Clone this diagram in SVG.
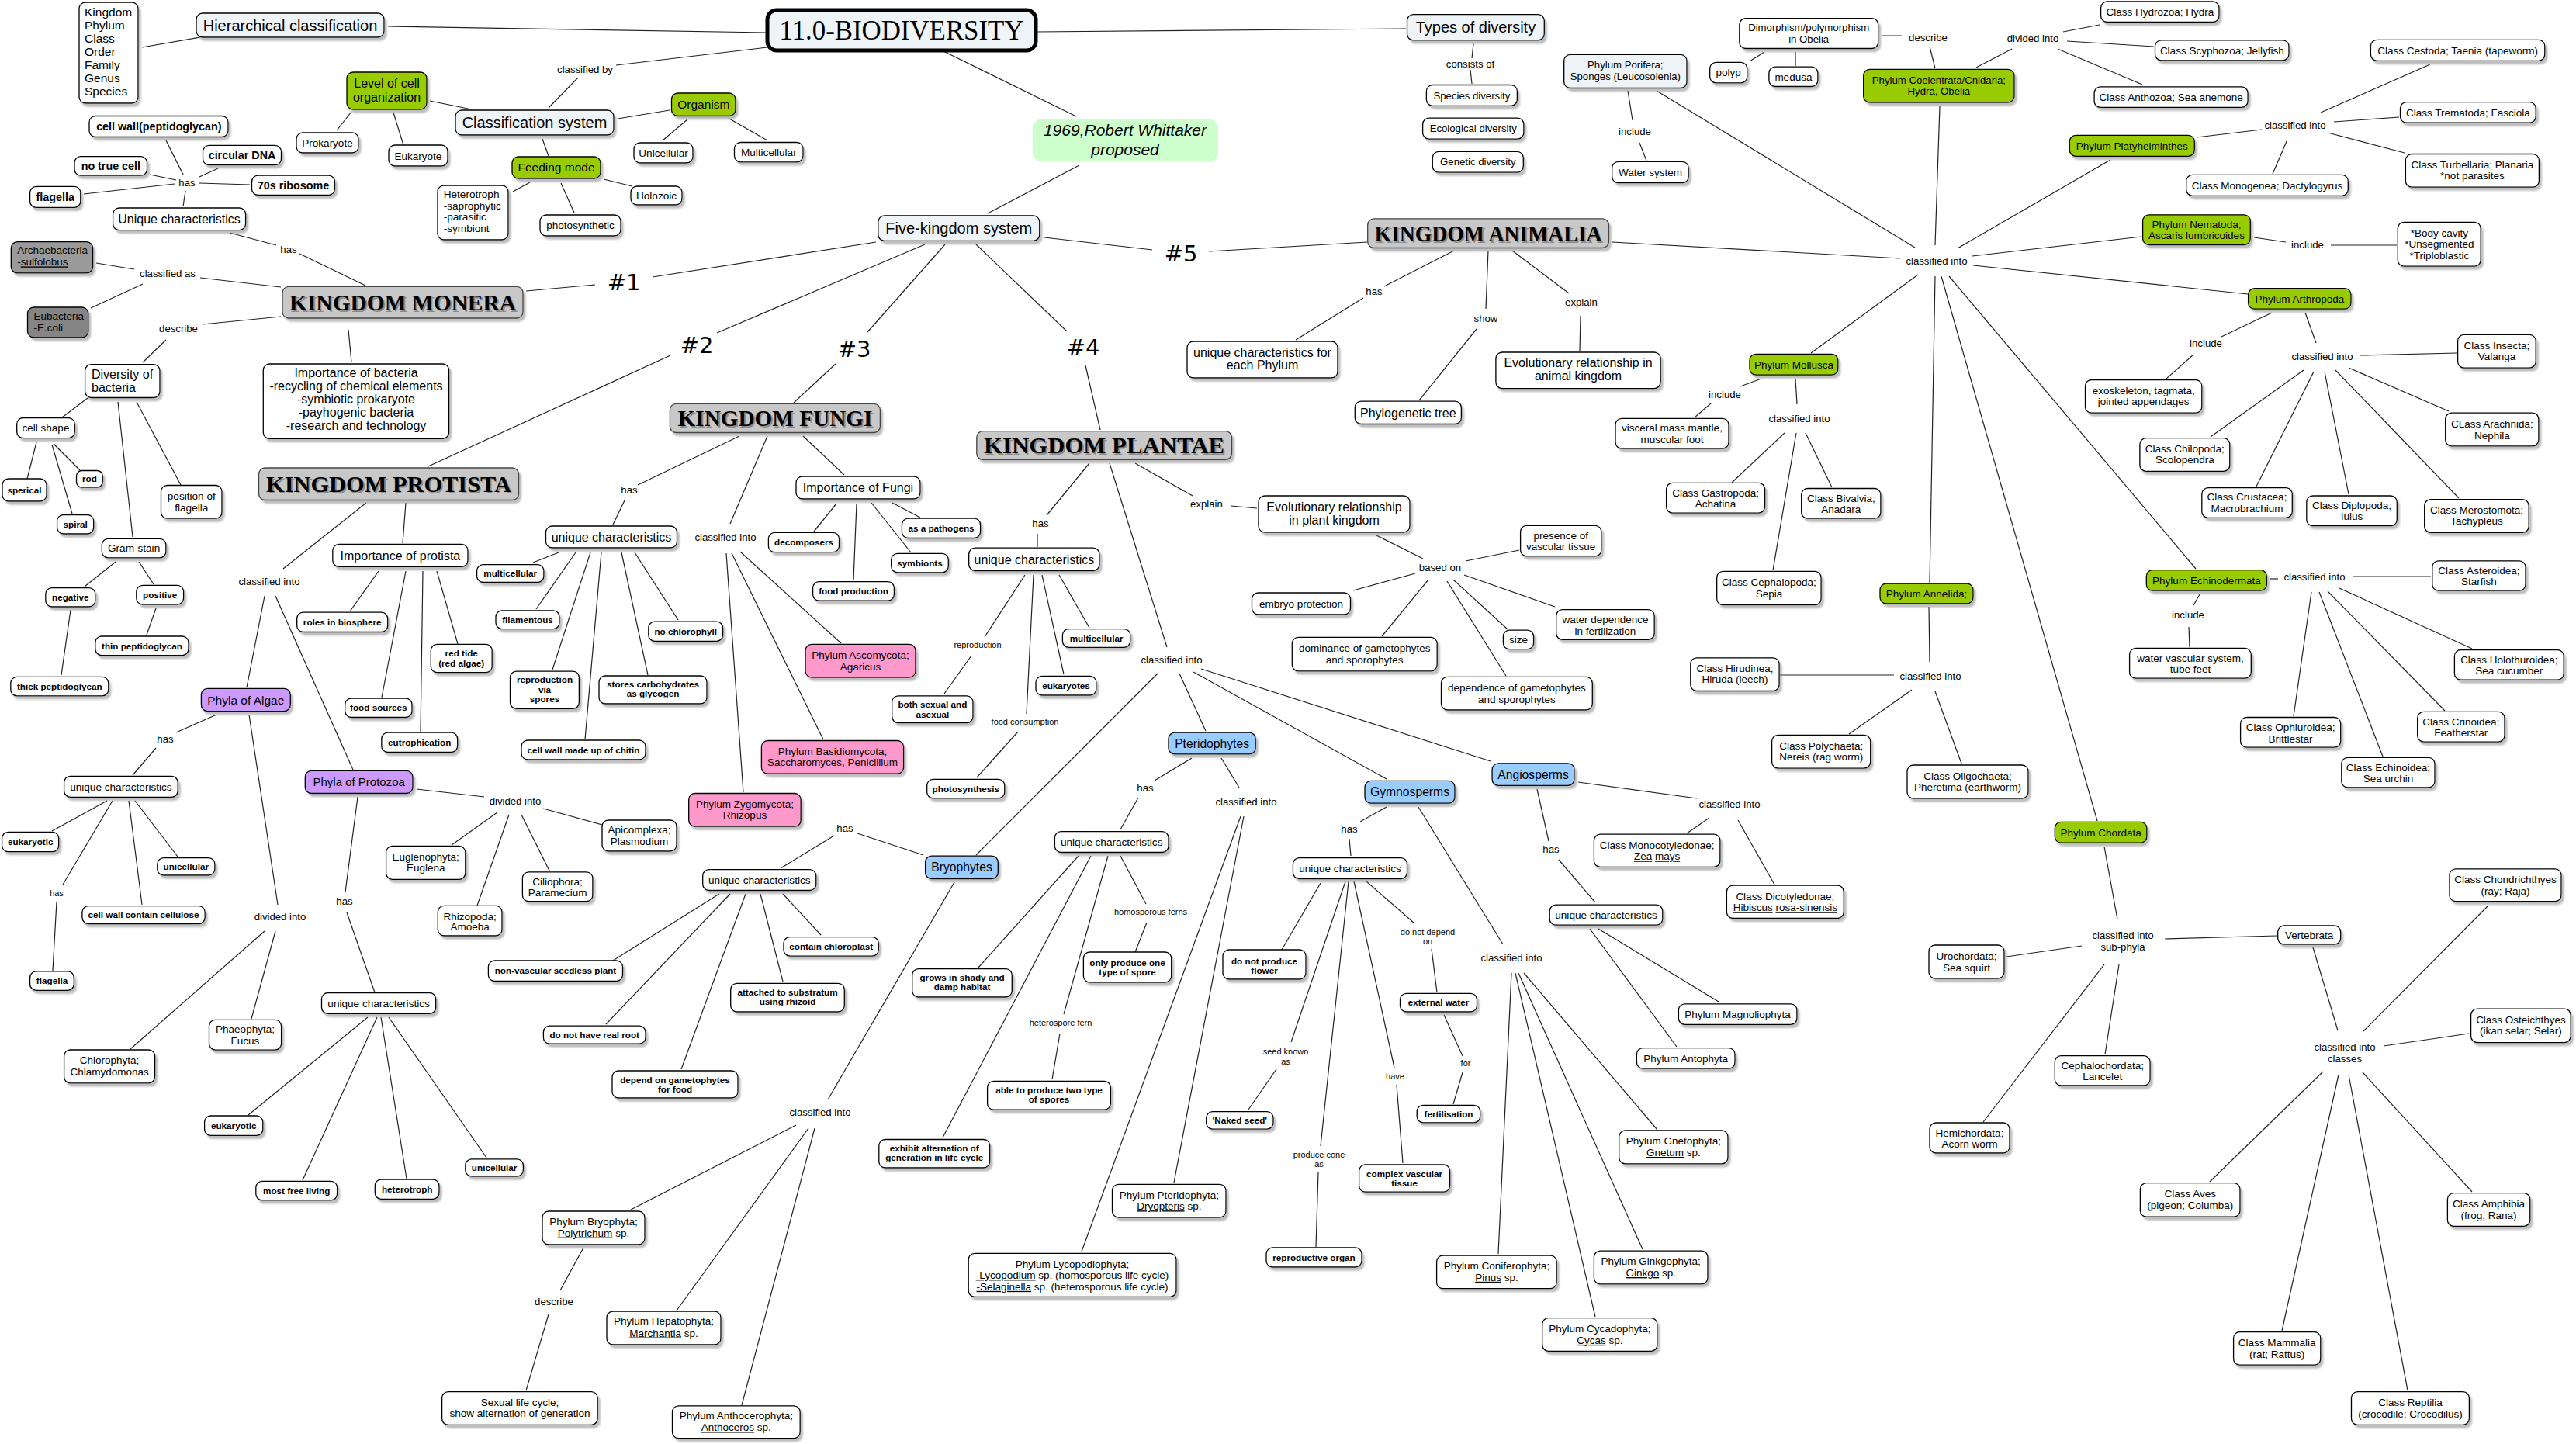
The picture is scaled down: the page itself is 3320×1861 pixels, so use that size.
<svg xmlns="http://www.w3.org/2000/svg" width="3320" height="1861" viewBox="0 0 3320 1861">
<defs>
<filter id="sh" x="-10%" y="-10%" width="130%" height="150%"><feDropShadow dx="3" dy="4" stdDeviation="1.2" flood-color="#888" flood-opacity="0.55"/></filter>
</defs>
<style>
.n{stroke:#000;stroke-width:1.3;filter:url(#sh)}
.w{fill:#fff}.lb{fill:#eef4f8}.g{fill:#99cc00}.p{fill:#cc99ff}.pk{fill:#ff99cc}.b{fill:#99ccff}
.k{fill:#c8c8c8;stroke:#444}.a1{fill:#9a9a9a}.a2{fill:#858585}.lg{fill:#ccffcc;stroke:none}
text{font-family:"Liberation Sans",Arial,sans-serif;text-anchor:middle;fill:#000}
.s20{font-size:20px}.s16{font-size:16px}.s155{font-size:15.5px}.s157{font-size:15.7px}.s15{font-size:15px}.s136{font-size:13.6px}.s135{font-size:13.5px}.s13{font-size:13.2px}.s11{font-size:11px}
.bb{font-weight:bold;font-size:14.3px}.bs{font-weight:bold;font-size:11.7px}
.lft{text-anchor:start}
.kt{font-family:"Liberation Serif","Times New Roman",serif;font-weight:bold;font-size:30px}
.ttl{font-family:"Liberation Serif","Times New Roman",serif;font-size:35px}
.it{font-style:italic;font-size:21px}
.ks{fill:#8a8a8a}
.hash{font-family:"DejaVu Sans",sans-serif;font-size:29px}
.u{text-decoration:underline}
#connectors path{stroke:#222;stroke-width:1.2;fill:none}
</style>
<rect width="3320" height="1861" fill="#fff"/>
<g id="connectors">
<path d="M183 61L258 48"/><path d="M500 34L989 42"/><path d="M989 61L794 84M745 100L707 139"/>
<path d="M554 130L608 141"/><path d="M453 144L434 168"/><path d="M507 145L520 187"/>
<path d="M699 179L707 201"/><path d="M683 235L661 247"/><path d="M723 236L740 274"/><path d="M778 231L815 240"/>
<path d="M796 153L863 142"/><path d="M886 154L854 181"/><path d="M940 153L989 181"/>
<path d="M214 181L236 225"/><path d="M281 217L257 228"/><path d="M193 225L227 232"/><path d="M108 250L225 237"/><path d="M257 236L322 238"/><path d="M239 246L236 266"/>
<path d="M296 300L356 316M386 327L471 368"/>
<path d="M124 339L173 347M258 358L362 370M184 366L117 397"/>
<path d="M362 408L261 418M214 438L184 467"/><path d="M449 425L453 467"/>
<path d="M678 375L767 367"/><path d="M841 357L1129 312"/>
<path d="M113 513L80 538"/><path d="M152 518L171 692"/><path d="M176 518L233 625"/>
<path d="M47 570L35 617"/><path d="M67 573L93 662"/><path d="M69 572L103 606"/>
<path d="M149 724L109 756"/><path d="M179 724L198 753"/><path d="M201 784L189 818"/><path d="M91 786L79 870"/>
<path d="M1192 315L924 429"/><path d="M864 458L552 601"/>
<path d="M472 648L365 733"/><path d="M523 648L519 700"/>
<path d="M488 736L451 788"/><path d="M523 736L492 899"/><path d="M545 736L542 943"/><path d="M563 736L590 830"/>
<path d="M341 768L318 886"/><path d="M355 768L455 992"/>
<path d="M279 921L227 944M201 964L171 999"/>
<path d="M138 1032L67 1071"/><path d="M145 1032L81 1140M73 1162L68 1251"/><path d="M166 1032L183 1166"/><path d="M174 1032L229 1104"/>
<path d="M321 921L358 1166"/><path d="M341 1200L168 1352"/><path d="M355 1200L324 1313"/>
<path d="M537 1017L624 1027"/><path d="M641 1047L582 1089"/><path d="M656 1050L615 1167"/><path d="M672 1050L708 1122"/><path d="M700 1042L776 1063"/>
<path d="M461 1027L445 1150M447 1176L483 1279"/>
<path d="M474 1311L320 1437"/><path d="M486 1311L390 1521"/><path d="M491 1311L524 1519"/><path d="M501 1311L627 1492"/>
<path d="M1218 315L1118 428"/><path d="M1077 469L1023 519"/>
<path d="M1258 315L1375 427"/><path d="M1399 471L1418 554"/>
<path d="M1346 306L1485 322"/><path d="M1558 324L1762 312"/>
<path d="M1216 66L1387 150"/><path d="M1391 213L1273 275"/><path d="M1336 41L1812 37"/>
<path d="M953 562L822 625M805 645L790 676"/>
<path d="M720 712L687 725"/><path d="M742 712L691 785"/><path d="M761 712L712 863"/><path d="M775 712L754 953"/><path d="M801 712L835 870"/><path d="M818 712L874 799"/>
<path d="M989 562L941 675"/><path d="M936 713L958 1021"/><path d="M943 713L1061 953"/><path d="M954 711L1084 829"/>
<path d="M1035 562L1088 612"/><path d="M1078 649L1049 685"/><path d="M1150 648L1186 667"/><path d="M1123 648L1174 712"/><path d="M1104 649L1100 748"/>
<path d="M1404 597L1349 664M1337 688L1337 705"/>
<path d="M1321 741L1269 821M1252 845L1217 894"/><path d="M1332 741L1323 920M1312 943L1259 1002"/><path d="M1343 741L1371 869"/><path d="M1365 741L1404 809"/>
<path d="M1430 597L1504 834"/><path d="M1492 868L1258 1102"/><path d="M1520 868L1554 942"/><path d="M1538 866L1787 1004"/><path d="M1548 862L1921 981"/>
<path d="M1463 597L1537 639M1586 652L1620 655"/>
<path d="M1774 690L1834 720"/><path d="M1889 723L1958 709"/><path d="M1824 739L1744 761"/><path d="M1841 747L1781 820"/><path d="M1865 749L1941 871"/><path d="M1873 747L1943 811"/><path d="M1887 741L2004 782"/>
<path d="M1190 1102L1105 1074M1075 1077L1006 1119"/>
<path d="M927 1152L790 1238"/><path d="M941 1152L781 1320"/><path d="M961 1152L878 1378"/><path d="M980 1152L1009 1265"/><path d="M1009 1152L1058 1205"/>
<path d="M1230 1137L1067 1417"/><path d="M1026 1450L813 1559"/><path d="M1042 1454L872 1689"/><path d="M1050 1454L956 1811"/>
<path d="M752 1608L722 1663M707 1694L678 1792"/>
<path d="M1536 977L1488 1006M1467 1028L1444 1069"/>
<path d="M1574 977L1597 1015"/><path d="M1599 1052L1394 1613"/><path d="M1603 1052L1513 1524"/>
<path d="M1390 1103L1261 1247"/><path d="M1406 1103L1215 1466"/><path d="M1428 1103L1371 1307M1366 1332L1356 1391"/><path d="M1444 1103L1477 1165M1478 1189L1463 1227"/>
<path d="M1787 1040L1753 1059M1739 1081L1741 1103"/>
<path d="M1702 1138L1652 1224"/><path d="M1734 1136L1664 1343M1645 1378L1609 1430"/><path d="M1738 1136L1702 1477M1699 1511L1696 1607"/><path d="M1745 1136L1797 1376M1800 1398L1808 1499"/><path d="M1761 1136L1823 1190M1845 1223L1852 1279"/>
<path d="M1861 1308L1885 1361M1885 1382L1873 1423"/>
<path d="M1828 1040L1937 1217"/><path d="M1948 1254L1931 1616"/><path d="M1953 1254L2056 1697"/><path d="M1957 1254L2117 1610"/><path d="M1964 1254L2136 1456"/>
<path d="M2034 1008L2187 1029"/><path d="M2203 1054L2174 1074"/><path d="M2240 1057L2287 1140"/>
<path d="M1981 1017L1996 1084M2009 1108L2056 1163"/><path d="M2060 1197L2215 1291"/><path d="M2049 1197L2161 1349"/>
<path d="M1874 323L1784 369M1757 384L1670 438"/><path d="M1918 323L1915 398M1903 424L1829 516"/><path d="M1949 323L2022 378M2037 407L2036 452"/>
<path d="M2078 312L2449 333"/>
<path d="M1899 56L1897 75M1895 90L1897 108"/>
<path d="M2098 117L2104 155M2113 184L2122 207"/><path d="M2135 117L2468 319"/>
<path d="M2500 137L2494 316"/><path d="M2494 88L2487 60M2451 46L2425 46"/><path d="M2274 67L2255 79"/><path d="M2314 67L2314 85"/>
<path d="M2547 87L2593 63"/><path d="M2659 41L2706 32"/><path d="M2664 53L2776 60"/><path d="M2652 63L2761 109"/>
<path d="M2523 320L2720 206"/><path d="M2831 177L2915 167"/><path d="M3008 157L3092 151"/><path d="M2991 145L3132 83"/><path d="M3000 171L3099 197"/><path d="M2948 180L2929 224"/>
<path d="M2542 330L2760 305"/><path d="M2905 306L2946 312M3004 316L3089 316"/>
<path d="M2543 342L2897 379"/><path d="M2928 403L2863 434M2827 457L2792 488"/><path d="M2971 403L2985 442"/>
<path d="M3042 458L3166 455"/><path d="M2969 477L2849 563"/><path d="M2982 479L2908 627"/><path d="M2996 479L3027 637"/><path d="M3010 477L3169 642"/><path d="M3027 474L3156 530"/>
<path d="M2472 354L2334 455"/><path d="M2270 488L2243 498M2205 520L2184 538"/><path d="M2314 488L2316 521"/><path d="M2300 558L2232 622"/><path d="M2315 558L2285 735"/><path d="M2327 558L2361 628"/>
<path d="M2494 356L2487 751"/><path d="M2486 782L2487 853"/><path d="M2441 870L2294 870"/><path d="M2464 889L2383 946"/><path d="M2494 891L2528 984"/>
<path d="M2512 356L2830 733"/><path d="M2926 746L2936 746"/><path d="M3032 743L3133 743"/><path d="M2979 763L2956 923"/><path d="M2989 763L3071 975"/><path d="M3000 762L3151 916"/><path d="M3015 758L3186 836"/>
<path d="M2835 766L2827 780M2821 808L2822 834"/>
<path d="M2502 356L2703 1058"/><path d="M2712 1091L2729 1185"/><path d="M2790 1210L2934 1206"/><path d="M2683 1219L2586 1233"/><path d="M2731 1243L2713 1359"/><path d="M2712 1243L2556 1446"/>
<path d="M2981 1221L3013 1328"/><path d="M3206 1168L3046 1329"/><path d="M3072 1348L3182 1332"/><path d="M2994 1381L2848 1523"/><path d="M3014 1385L2941 1715"/><path d="M3027 1385L3103 1792"/><path d="M3045 1382L3186 1536"/>
</g>
<g id="labels">
<text class="s13" x="754" y="93.5">classified by</text>
<text class="s13" x="241" y="239.5">has</text>
<text class="s13" x="372" y="325.5">has</text>
<text class="s13" x="216" y="356.5">classified as</text>
<text class="s13" x="230" y="427.5">describe</text>
<text class="s13" x="347" y="753.5">classified into</text>
<text class="s13" x="213" y="956.5">has</text>
<text class="s11" x="73" y="1154.5">has</text>
<text class="s13" x="361" y="1186">divided into</text>
<text class="s13" x="664" y="1036.5">divided into</text>
<text class="s13" x="444" y="1166">has</text>
<text class="s13" x="811" y="636.4">has</text>
<text class="s13" x="935" y="697.3">classified into</text>
<text class="s13" x="1341" y="679">has</text>
<text class="s11" x="1260" y="835.3">reproduction</text>
<text class="s11" x="1321" y="934.2">food consumption</text>
<text class="s13" x="1510" y="854.6">classified into</text>
<text class="s13" x="1555" y="654.2">explain</text>
<text class="s13" x="1856" y="736.4">based on</text>
<text class="s13" x="1089" y="1072">has</text>
<text class="s13" x="1057" y="1438.3">classified into</text>
<text class="s13" x="714" y="1681.5">describe</text>
<text class="s13" x="1476" y="1020.3">has</text>
<text class="s13" x="1606" y="1037.7">classified into</text>
<text class="s11" x="1367" y="1322">heterospore fern</text>
<text class="s11" x="1483" y="1179.4">homosporous ferns</text>
<text class="s13" x="1739" y="1072.5">has</text>
<text class="s11"><tspan x="1657" y="1359">seed known</tspan><tspan x="1657" y="1371.5">as</tspan></text>
<text class="s11"><tspan x="1700" y="1492">produce cone</tspan><tspan x="1700" y="1504">as</tspan></text>
<text class="s11" x="1798" y="1390.5">have</text>
<text class="s11"><tspan x="1840" y="1205.3">do not depend</tspan><tspan x="1840" y="1217.2">on</tspan></text>
<text class="s11" x="1889" y="1374.3">for</text>
<text class="s13" x="1948" y="1238.6">classified into</text>
<text class="s13" x="2229" y="1041.3">classified into</text>
<text class="s13" x="1999" y="1099">has</text>
<text class="s13" x="1771" y="380">has</text>
<text class="s13" x="1915" y="414.5">show</text>
<text class="s13" x="2038" y="393.5">explain</text>
<text class="s13" x="1895" y="86.7">consists of</text>
<text class="s13" x="2107" y="173.7">include</text>
<text class="s13" x="2496" y="340.5">classified into</text>
<text class="s13" x="2485" y="52.8">describe</text>
<text class="s13" x="2620" y="54.3">divided into</text>
<text class="s13" x="2958" y="165.5">classified into</text>
<text class="s13" x="2974" y="319.6">include</text>
<text class="s13" x="2843" y="447.4">include</text>
<text class="s13" x="2993" y="463.6">classified into</text>
<text class="s13" x="2223" y="512.6">include</text>
<text class="s13" x="2319" y="543.5">classified into</text>
<text class="s13" x="2488" y="875.5">classified into</text>
<text class="s13" x="2983" y="748.3">classified into</text>
<text class="s13" x="2820" y="797.3">include</text>
<text class="s13"><tspan x="2736" y="1210">classified into</tspan><tspan x="2736" y="1224.6">sub-phyla</tspan></text>
<text class="s13"><tspan x="3022" y="1353.5">classified into</tspan><tspan x="3022" y="1368.6">classes</tspan></text>
<text class="hash" x="804" y="373.5">#1</text>
<text class="hash" x="898" y="454.7">#2</text>
<text class="hash" x="1101" y="459.9">#3</text>
<text class="hash" x="1396" y="457.5">#4</text>
<text class="hash" x="1522" y="337.3">#5</text>
</g>
<g id="title"><rect x="989" y="13" width="346" height="52" rx="12" fill="#eef4f8" stroke="#000" stroke-width="5"/><text class="ttl" x="1162" y="50.5" textLength="315" lengthAdjust="spacingAndGlyphs">11.0-BIODIVERSITY</text></g>
<g id="kinglist"><rect class="n w" x="102" y="3" width="76" height="130" rx="8"/><text class="s155 lft"><tspan x="109" y="20.6">Kingdom</tspan><tspan x="109" y="37.6">Phylum</tspan><tspan x="109" y="54.6">Class</tspan><tspan x="109" y="71.6">Order</tspan><tspan x="109" y="88.6">Family</tspan><tspan x="109" y="105.6">Genus</tspan><tspan x="109" y="122.6">Species</tspan></text></g>
<g id="hier"><rect class="n lb" x="253" y="17" width="242" height="31" rx="8"/><text class="s20" x="374" y="39.5">Hierarchical classification</text></g>
<g id="level"><rect class="n g" x="447" y="93" width="103" height="48" rx="8"/><text class="s16"><tspan x="498.5" y="112.7">Level of cell</tspan><tspan x="498.5" y="130.5">organization</tspan></text></g>
<g id="classsys"><rect class="n lb" x="587" y="142" width="204" height="32" rx="8"/><text class="s20" x="689" y="165">Classification system</text></g>
<g id="prok"><rect class="n w" x="382" y="171" width="80" height="26" rx="8"/><text class="s135" x="422" y="188.7">Prokaryote</text></g>
<g id="euk"><rect class="n w" x="501" y="187" width="76" height="27" rx="8"/><text class="s135" x="539" y="205.5">Eukaryote</text></g>
<g id="feeding"><rect class="n g" x="660" y="202" width="114" height="28" rx="8"/><text class="s155" x="717" y="221.4">Feeding mode</text></g>
<g id="hetero"><rect class="n w" x="564" y="239" width="91" height="70" rx="8"/><text class="s136 lft"><tspan x="571.7" y="255">Heterotroph</tspan><tspan x="571.7" y="269.7">-saprophytic</tspan><tspan x="571.7" y="284.3">-parasitic</tspan><tspan x="571.7" y="299">-symbiont</tspan></text></g>
<g id="photo1"><rect class="n w" x="696" y="277" width="104" height="27" rx="8"/><text class="s136" x="748" y="295.3">photosynthetic</text></g>
<g id="holo"><rect class="n w" x="813" y="240" width="66" height="24" rx="8"/><text class="s136" x="846" y="256.8">Holozoic</text></g>
<g id="unicell"><rect class="n w" x="817" y="184" width="76" height="26" rx="8"/><text class="s136" x="855" y="201.8">Unicellular</text></g>
<g id="multicell"><rect class="n w" x="946.5" y="183.5" width="88.5" height="25.3" rx="8"/><text class="s136" x="990.8" y="201">Multicellular</text></g>
<g id="organism"><rect class="n g" x="865.5" y="120" width="82.5" height="29.5" rx="8"/><text class="s155" x="906.8" y="140.2">Organism</text></g>
<g id="cellwall"><rect class="n w" x="115" y="149.5" width="179" height="27" rx="8"/><text class="bb" x="204.8" y="168">cell wall(peptidoglycan)</text></g>
<g id="circdna"><rect class="n w" x="261.5" y="187.4" width="101" height="25.3" rx="8"/><text class="bb" x="312" y="205">circular DNA</text></g>
<g id="notrue"><rect class="n w" x="96" y="201.7" width="93.5" height="24.5" rx="8"/><text class="bb" x="142.8" y="219">no true cell</text></g>
<g id="flagb"><rect class="n w" x="38.6" y="240.4" width="65.2" height="27" rx="8"/><text class="bb" x="71.2" y="259">flagella</text></g>
<g id="ribo"><rect class="n w" x="324.5" y="226.2" width="107" height="25.3" rx="8"/><text class="bb" x="378" y="244">70s ribosome</text></g>
<g id="uniqb"><rect class="n w" x="145.6" y="268" width="171" height="28.6" rx="8"/><text class="s16" x="231" y="288">Unique characteristics</text></g>
<g id="monera"><rect class="n k" x="364" y="369.3" width="310" height="40.7" rx="8"/><text class="kt ks" x="521" y="401.6" textLength="292" lengthAdjust="spacingAndGlyphs">KINGDOM MONERA</text><text class="kt" x="519" y="399.6" textLength="292" lengthAdjust="spacingAndGlyphs">KINGDOM MONERA</text></g>
<g id="archae"><rect class="n a1" x="14.3" y="311.6" width="105.3" height="40.3" rx="8"/><text class="s135 lft"><tspan x="22.2" y="327.4">Archaebacteria</tspan><tspan x="22.2" y="342.4">-<tspan class="u">sulfolobus</tspan></tspan></text></g>
<g id="eubac"><rect class="n a2" x="35.5" y="396" width="78.3" height="39" rx="8"/><text class="s135 lft"><tspan x="43.4" y="412.4">Eubacteria</tspan><tspan x="43.4" y="427.4">-E.coli</tspan></text></g>
<g id="divers"><rect class="n w" x="109.6" y="469.7" width="96.4" height="42.8" rx="8"/><text class="s16 lft"><tspan x="118" y="487.5">Diversity of</tspan><tspan x="118" y="504.5">bacteria</tspan></text></g>
<g id="impbac"><rect class="n w" x="339.3" y="469" width="239.3" height="96.4" rx="8"/><text class="s16"><tspan x="459" y="486.4">Importance of bacteria</tspan><tspan x="459" y="503.4">-recycling of chemical elements</tspan><tspan x="459" y="520.4">-symbiotic prokaryote</tspan><tspan x="459" y="537.4">-payhogenic bacteria</tspan><tspan x="459" y="554.4">-research and technology</tspan></text></g>
<g id="cellshape"><rect class="n w" x="21.7" y="538.5" width="74.6" height="26.1" rx="8"/><text class="s135" x="59" y="556">cell shape</text></g>
<g id="rod"><rect class="n w" x="98.5" y="606.5" width="33.8" height="21.5" rx="7"/><text class="bs" x="115.4" y="621.4">rod</text></g>
<g id="sperical"><rect class="n w" x="3" y="617" width="57" height="29" rx="8"/><text class="bs" x="31.5" y="635.6">sperical</text></g>
<g id="spiral"><rect class="n w" x="73.6" y="663.5" width="47.1" height="24.5" rx="8"/><text class="bs" x="97.2" y="680">spiral</text></g>
<g id="posflag"><rect class="n w" x="207.5" y="625.5" width="78.5" height="42.7" rx="8"/><text class="s136"><tspan x="246.8" y="644">position of</tspan><tspan x="246.8" y="658.6">flagella</tspan></text></g>
<g id="gram"><rect class="n w" x="131.3" y="694.3" width="82.6" height="24.6" rx="8"/><text class="s136" x="172.6" y="711.4">Gram-stain</text></g>
<g id="neg"><rect class="n w" x="58.8" y="757.6" width="64" height="24.4" rx="8"/><text class="bs" x="90.8" y="774">negative</text></g>
<g id="pos"><rect class="n w" x="175.8" y="754.4" width="60.8" height="24.6" rx="8"/><text class="bs" x="206.2" y="771">positive</text></g>
<g id="thinp"><rect class="n w" x="122.8" y="820" width="120.2" height="24.6" rx="8"/><text class="bs" x="183" y="836.5">thin peptidoglycan</text></g>
<g id="thickp"><rect class="n w" x="13.8" y="872.3" width="126" height="24.5" rx="8"/><text class="bs" x="76.8" y="888.7">thick peptidoglycan</text></g>
<g id="protista"><rect class="n k" x="333.5" y="603" width="335" height="41.5" rx="8"/><text class="kt ks" x="503" y="636" textLength="316" lengthAdjust="spacingAndGlyphs">KINGDOM PROTISTA</text><text class="kt" x="501" y="634" textLength="316" lengthAdjust="spacingAndGlyphs">KINGDOM PROTISTA</text></g>
<g id="impprot"><rect class="n w" x="428.8" y="701.5" width="174.2" height="28.8" rx="8"/><text class="s16" x="515.9" y="721.5">Importance of protista</text></g>
<g id="roles"><rect class="n w" x="382.7" y="789.2" width="117" height="25.3" rx="8"/><text class="bs" x="441.2" y="806">roles in biosphere</text></g>
<g id="foodsrc"><rect class="n w" x="444.7" y="900" width="86.3" height="24.5" rx="8"/><text class="bs" x="487.8" y="916.4">food sources</text></g>
<g id="eutro"><rect class="n w" x="491.8" y="944.2" width="97.9" height="25.3" rx="8"/><text class="bs" x="540.7" y="961">eutrophication</text></g>
<g id="redtide"><rect class="n w" x="555.3" y="830.4" width="78.9" height="36.3" rx="8"/><text class="bs"><tspan x="594.7" y="846">red tide</tspan><tspan x="594.7" y="858.7">(red algae)</tspan></text></g>
<g id="algae"><rect class="n p" x="259.4" y="887.3" width="114.9" height="29.3" rx="8"/><text class="s155" x="316.8" y="907.5">Phyla of Algae</text></g>
<g id="uniqa"><rect class="n w" x="82.6" y="1000.4" width="146.6" height="26.9" rx="8"/><text class="s136" x="155.9" y="1018.6">unique characteristics</text></g>
<g id="euka"><rect class="n w" x="2.6" y="1072.4" width="73.1" height="25.3" rx="8"/><text class="bs" x="39.2" y="1089">eukaryotic</text></g>
<g id="unica"><rect class="n w" x="202.8" y="1105.6" width="74.1" height="22.4" rx="8"/><text class="bs" x="239.8" y="1121">unicellular</text></g>
<g id="cellulose"><rect class="n w" x="105.9" y="1167.6" width="158.3" height="23" rx="8"/><text class="bs" x="185" y="1183.3">cell wall contain cellulose</text></g>
<g id="flaga"><rect class="n w" x="38.6" y="1251.9" width="56.7" height="24.5" rx="8"/><text class="bs" x="67" y="1268.3">flagella</text></g>
<g id="chloro"><rect class="n w" x="82.6" y="1353" width="117" height="42.8" rx="8"/><text class="s135"><tspan x="141.1" y="1371.3">Chlorophyta;</tspan><tspan x="141.1" y="1386">Chlamydomonas</tspan></text></g>
<g id="phaeo"><rect class="n w" x="269.5" y="1314.3" width="93.1" height="38.8" rx="8"/><text class="s135"><tspan x="316" y="1331.4">Phaeophyta;</tspan><tspan x="316" y="1346.4">Fucus</tspan></text></g>
<g id="protozoa"><rect class="n p" x="393.3" y="993.3" width="138.7" height="29.2" rx="8"/><text class="s15" x="462.7" y="1013.3">Phyla of Protozoa</text></g>
<g id="eugl"><rect class="n w" x="497.6" y="1090.5" width="102.2" height="42.8" rx="8"/><text class="s135"><tspan x="548.7" y="1109">Euglenophyta;</tspan><tspan x="548.7" y="1123">Euglena</tspan></text></g>
<g id="rhizo"><rect class="n w" x="564.3" y="1167.3" width="82.7" height="38.7" rx="8"/><text class="s135"><tspan x="605.6" y="1185.5">Rhizopoda;</tspan><tspan x="605.6" y="1199.3">Amoeba</tspan></text></g>
<g id="cilio"><rect class="n w" x="673.4" y="1123.8" width="90.5" height="37.9" rx="8"/><text class="s135"><tspan x="718.6" y="1140.8">Ciliophora;</tspan><tspan x="718.6" y="1155.4">Paramecium</tspan></text></g>
<g id="apico"><rect class="n w" x="776" y="1057" width="96" height="40" rx="8"/><text class="s135"><tspan x="824" y="1074.4">Apicomplexa;</tspan><tspan x="824" y="1088.6">Plasmodium</tspan></text></g>
<g id="uniqpz"><rect class="n w" x="414.5" y="1279.5" width="147.2" height="26.9" rx="8"/><text class="s136" x="488.1" y="1297.8">unique characteristics</text></g>
<g id="eukpz"><rect class="n w" x="263.6" y="1438" width="75.2" height="25.4" rx="8"/><text class="bs" x="301.2" y="1455">eukaryotic</text></g>
<g id="freeliv"><rect class="n w" x="329.8" y="1522.3" width="104.8" height="24.5" rx="8"/><text class="bs" x="382.2" y="1538.8">most free living</text></g>
<g id="heterpz"><rect class="n w" x="483.3" y="1520" width="82.7" height="25.3" rx="8"/><text class="bs" x="524.7" y="1536.9">heterotroph</text></g>
<g id="unicpz"><rect class="n w" x="599.8" y="1493.9" width="74.6" height="22.1" rx="8"/><text class="bs" x="637.1" y="1509.2">unicellular</text></g>
<g id="fungi"><rect class="n k" x="863.4" y="520.4" width="271" height="37.1" rx="8"/><text class="kt ks" x="1001" y="550.8" textLength="251" lengthAdjust="spacingAndGlyphs">KINGDOM FUNGI</text><text class="kt" x="999" y="548.8" textLength="251" lengthAdjust="spacingAndGlyphs">KINGDOM FUNGI</text></g>
<g id="uniqf"><rect class="n w" x="703.5" y="678" width="169" height="28" rx="8"/><text class="s16" x="788" y="697.6">unique characteristics</text></g>
<g id="multif"><rect class="n w" x="614.6" y="727.6" width="86.3" height="22.9" rx="8"/><text class="bs" x="657.7" y="743.2">multicellular</text></g>
<g id="filam"><rect class="n w" x="639" y="786.9" width="82" height="23.7" rx="8"/><text class="bs" x="680" y="803">filamentous</text></g>
<g id="reprod"><rect class="n w" x="657.5" y="865.2" width="88.9" height="48.2" rx="8"/><text class="bs"><tspan x="702" y="880.4">reproduction</tspan><tspan x="702" y="892.7">via</tspan><tspan x="702" y="904.9">spores</tspan></text></g>
<g id="chitin"><rect class="n w" x="672" y="954" width="160" height="25" rx="8"/><text class="bs" x="752" y="970.7">cell wall made up of chitin</text></g>
<g id="stores"><rect class="n w" x="772" y="871" width="139" height="36" rx="8"/><text class="bs"><tspan x="841.5" y="886">stores carbohydrates</tspan><tspan x="841.5" y="898.2">as glycogen</tspan></text></g>
<g id="nochl"><rect class="n w" x="835.8" y="801.1" width="95.8" height="25.3" rx="8"/><text class="bs" x="883.7" y="818">no chlorophyll</text></g>
<g id="ascomy"><rect class="n pk" x="1038" y="830.4" width="142" height="42.6" rx="8"/><text class="s135"><tspan x="1109" y="849">Phylum Ascomycota;</tspan><tspan x="1109" y="863.6">Agaricus</tspan></text></g>
<g id="basidio"><rect class="n pk" x="981.4" y="954.5" width="183.2" height="42.7" rx="8"/><text class="s135"><tspan x="1073" y="972.8">Phylum Basidiomycota;</tspan><tspan x="1073" y="987">Saccharomyces, Penicillium</tspan></text></g>
<g id="zygo"><rect class="n pk" x="887.7" y="1022.5" width="144.5" height="42.7" rx="8"/><text class="s135"><tspan x="960" y="1040.8">Phylum Zygomycota;</tspan><tspan x="960" y="1055.4">Rhizopus</tspan></text></g>
<g id="impfungi"><rect class="n w" x="1026" y="614" width="160" height="29" rx="8"/><text class="s16" x="1106" y="634">Importance of Fungi</text></g>
<g id="decomp"><rect class="n w" x="990.4" y="686.4" width="91.1" height="25.3" rx="8"/><text class="bs" x="1036" y="703.2">decomposers</text></g>
<g id="pathog"><rect class="n w" x="1162.4" y="668.2" width="101.2" height="25.3" rx="8"/><text class="bs" x="1213" y="685">as a pathogens</text></g>
<g id="symb"><rect class="n w" x="1148.7" y="713.3" width="73.6" height="24.5" rx="8"/><text class="bs" x="1185.5" y="729.7">symbionts</text></g>
<g id="foodprod"><rect class="n w" x="1047.6" y="749.7" width="104.8" height="24.5" rx="8"/><text class="bs" x="1100" y="766.2">food production</text></g>
<g id="plantae"><rect class="n k" x="1258.8" y="555.6" width="328.7" height="36.7" rx="8"/><text class="kt ks" x="1425" y="585.8" textLength="310" lengthAdjust="spacingAndGlyphs">KINGDOM PLANTAE</text><text class="kt" x="1423" y="583.8" textLength="310" lengthAdjust="spacingAndGlyphs">KINGDOM PLANTAE</text></g>
<g id="uniqpl"><rect class="n w" x="1248.7" y="706.2" width="168.3" height="29.3" rx="8"/><text class="s16" x="1332.9" y="726.5">unique characteristics</text></g>
<g id="both"><rect class="n w" x="1149.7" y="896.8" width="104.3" height="34.8" rx="8"/><text class="bs"><tspan x="1201.9" y="912">both sexual and</tspan><tspan x="1201.9" y="924.7">asexual</tspan></text></g>
<g id="photo2"><rect class="n w" x="1194.7" y="1004.3" width="100.1" height="24.6" rx="8"/><text class="bs" x="1244.8" y="1020.8">photosynthesis</text></g>
<g id="eukpl"><rect class="n w" x="1335" y="871.5" width="77.9" height="24.5" rx="8"/><text class="bs" x="1374" y="888">eukaryotes</text></g>
<g id="multipl"><rect class="n w" x="1369.4" y="810.6" width="87.4" height="23.7" rx="8"/><text class="bs" x="1413.1" y="826.6">multicellular</text></g>
<g id="evopl"><rect class="n w" x="1622" y="639" width="195" height="47" rx="8"/><text class="s16"><tspan x="1719.5" y="659.4">Evolutionary relationship</tspan><tspan x="1719.5" y="676.4">in plant kingdom</tspan></text></g>
<g id="presence"><rect class="n w" x="1959.6" y="677.3" width="104.3" height="39.6" rx="8"/><text class="s135"><tspan x="2011.7" y="695.2">presence of</tspan><tspan x="2011.7" y="709.4">vascular tissue</tspan></text></g>
<g id="embryo"><rect class="n w" x="1613.5" y="764" width="127" height="28" rx="8"/><text class="s135" x="1677" y="782.8">embryo protection</text></g>
<g id="dominance"><rect class="n w" x="1665.3" y="821.3" width="186.9" height="43.5" rx="8"/><text class="s135"><tspan x="1758.7" y="840.3">dominance of gametophytes</tspan><tspan x="1758.7" y="854.5">and sporophytes</tspan></text></g>
<g id="size"><rect class="n w" x="1937.4" y="812.2" width="39.2" height="24.5" rx="8"/><text class="s135" x="1957" y="829.3">size</text></g>
<g id="waterdep"><rect class="n w" x="2005.7" y="785.7" width="126.5" height="38.7" rx="8"/><text class="s135"><tspan x="2069" y="803.1">water dependence</tspan><tspan x="2069" y="817.8">in fertilization</tspan></text></g>
<g id="dependence"><rect class="n w" x="1857.5" y="872.3" width="194.8" height="42.7" rx="8"/><text class="s135"><tspan x="1954.9" y="890.9">dependence of gametophytes</tspan><tspan x="1954.9" y="905.5">and sporophytes</tspan></text></g>
<g id="bryophytes"><rect class="n b" x="1192.6" y="1103.2" width="93.7" height="29.3" rx="8"/><text class="s157" x="1239.5" y="1123.3">Bryophytes</text></g>
<g id="uniqbr"><rect class="n w" x="905.7" y="1120.6" width="146.1" height="26.9" rx="8"/><text class="s136" x="978.8" y="1138.8">unique characteristics</text></g>
<g id="nonvasc"><rect class="n w" x="629.4" y="1238" width="173.1" height="26.5" rx="8"/><text class="bs" x="716" y="1255.4">non-vascular seedless plant</text></g>
<g id="realroot"><rect class="n w" x="700.4" y="1322.2" width="131.6" height="23" rx="8"/><text class="bs" x="766.2" y="1337.9">do not have real root</text></g>
<g id="depend"><rect class="n w" x="789" y="1380" width="162" height="35" rx="8"/><text class="bs"><tspan x="870" y="1396.4">depend on gametophytes</tspan><tspan x="870" y="1408.3">for food</tspan></text></g>
<g id="attached"><rect class="n w" x="941.7" y="1267.3" width="146.6" height="36.7" rx="8"/><text class="bs"><tspan x="1015" y="1283">attached to substratum</tspan><tspan x="1015" y="1295.2">using rhizoid</tspan></text></g>
<g id="chloroplast"><rect class="n w" x="1010" y="1207.6" width="122.3" height="24.5" rx="8"/><text class="bs" x="1071.2" y="1224">contain chloroplast</text></g>
<g id="bryophyta"><rect class="n w" x="699" y="1561" width="132" height="43" rx="8"/><text class="s135"><tspan x="765" y="1578.9">Phylum Bryophyta;</tspan><tspan x="765" y="1593.6"><tspan class="u">Polytrichum</tspan> sp.</tspan></text></g>
<g id="sexual"><rect class="n w" x="569.6" y="1793.6" width="200.6" height="42.7" rx="8"/><text class="s135"><tspan x="670" y="1811.8">Sexual life cycle;</tspan><tspan x="670" y="1826.4">show alternation of generation</tspan></text></g>
<g id="hepato"><rect class="n w" x="782" y="1690" width="147" height="43" rx="8"/><text class="s135"><tspan x="855.5" y="1707.4">Phylum Hepatophyta;</tspan><tspan x="855.5" y="1722.5"><tspan class="u">Marchantia</tspan> sp.</tspan></text></g>
<g id="anthoc"><rect class="n w" x="866.5" y="1811.8" width="164.7" height="41.9" rx="8"/><text class="s135"><tspan x="948.8" y="1829.2">Phylum Anthocerophyta;</tspan><tspan x="948.8" y="1844.2"><tspan class="u">Anthoceros</tspan> sp.</tspan></text></g>
<g id="pterido"><rect class="n b" x="1506" y="944.2" width="112.2" height="27.7" rx="8"/><text class="s157" x="1562.1" y="963.5">Pteridophytes</text></g>
<g id="uniqpt"><rect class="n w" x="1359.4" y="1071.6" width="146.6" height="26.9" rx="8"/><text class="s136" x="1432.7" y="1089.8">unique characteristics</text></g>
<g id="grows"><rect class="n w" x="1175.7" y="1248.7" width="128.6" height="36.3" rx="8"/><text class="bs"><tspan x="1240" y="1264">grows in shady and</tspan><tspan x="1240" y="1276.2">damp habitat</tspan></text></g>
<g id="exhibit"><rect class="n w" x="1132.8" y="1468.5" width="142.9" height="36.5" rx="8"/><text class="bs"><tspan x="1204.2" y="1483.8">exhibit alternation of</tspan><tspan x="1204.2" y="1496.1">generation in life cycle</tspan></text></g>
<g id="able"><rect class="n w" x="1272.6" y="1393.4" width="158.8" height="36.8" rx="8"/><text class="bs"><tspan x="1352" y="1409.1">able to produce two type</tspan><tspan x="1352" y="1421.3">of spores</tspan></text></g>
<g id="onlyone"><rect class="n w" x="1396.4" y="1227" width="113.3" height="39" rx="8"/><text class="bs"><tspan x="1453" y="1244.6">only produce one</tspan><tspan x="1453" y="1256.9">type of spore</tspan></text></g>
<g id="pteridophyta"><rect class="n w" x="1433.5" y="1526.3" width="146.5" height="42.7" rx="8"/><text class="s135"><tspan x="1506.8" y="1544.5">Phylum Pteridophyta;</tspan><tspan x="1506.8" y="1559.2"><tspan class="u">Dryopteris</tspan> sp.</tspan></text></g>
<g id="lyco"><rect class="n w" x="1248.2" y="1615.3" width="267.8" height="56.1" rx="8"/><text class="s135"><tspan x="1382" y="1633.5">Phylum Lycopodiophyta;</tspan><tspan x="1382" y="1648.1"><tspan class="u">-Lycopodium</tspan> sp. (homosporous life cycle)</tspan><tspan x="1382" y="1662.8"><tspan class="u">-Selaginella</tspan> sp. (heterosporous life cycle)</tspan></text></g>
<g id="gymno"><rect class="n b" x="1759" y="1006.3" width="116" height="28.9" rx="8"/><text class="s157" x="1817" y="1026.3">Gymnosperms</text></g>
<g id="angio"><rect class="n b" x="1923.1" y="983.8" width="105.9" height="28.5" rx="8"/><text class="s157" x="1976" y="1003.5">Angiosperms</text></g>
<g id="uniqg"><rect class="n w" x="1666.4" y="1105.6" width="147.1" height="26.9" rx="8"/><text class="s136" x="1740" y="1123.8">unique characteristics</text></g>
<g id="noflower"><rect class="n w" x="1576" y="1224" width="107" height="38" rx="8"/><text class="bs"><tspan x="1629.5" y="1242.9">do not produce</tspan><tspan x="1629.5" y="1255.2">flower</tspan></text></g>
<g id="naked"><rect class="n w" x="1554.7" y="1432.6" width="86.3" height="22.5" rx="8"/><text class="bs" x="1597.8" y="1448">'Naked seed'</text></g>
<g id="repro"><rect class="n w" x="1632" y="1608" width="123" height="25" rx="8"/><text class="bs" x="1693.5" y="1624.7">reproductive organ</text></g>
<g id="complex"><rect class="n w" x="1751.6" y="1501" width="117" height="35.2" rx="8"/><text class="bs"><tspan x="1810.1" y="1517">complex vascular</tspan><tspan x="1810.1" y="1528.9">tissue</tspan></text></g>
<g id="extwater"><rect class="n w" x="1804.5" y="1280.3" width="99" height="23.7" rx="8"/><text class="bs" x="1854" y="1296.4">external water</text></g>
<g id="fert"><rect class="n w" x="1826.2" y="1424.3" width="81.5" height="22.5" rx="8"/><text class="bs" x="1867" y="1439.7">fertilisation</text></g>
<g id="conifer"><rect class="n w" x="1851.6" y="1618" width="154.6" height="42.7" rx="8"/><text class="s135"><tspan x="1929" y="1636.3">Phylum Coniferophyta;</tspan><tspan x="1929" y="1650.8"><tspan class="u">Pinus</tspan> sp.</tspan></text></g>
<g id="ginkgo"><rect class="n w" x="2054.4" y="1612.1" width="146.6" height="42.7" rx="8"/><text class="s135"><tspan x="2127.7" y="1630.3">Phylum Ginkgophyta;</tspan><tspan x="2127.7" y="1645"><tspan class="u">Ginkgo</tspan> sp.</tspan></text></g>
<g id="cycad"><rect class="n w" x="1987.7" y="1698.7" width="148.2" height="42.7" rx="8"/><text class="s135"><tspan x="2061.8" y="1717.3">Phylum Cycadophyta;</tspan><tspan x="2061.8" y="1731.9"><tspan class="u">Cycas</tspan> sp.</tspan></text></g>
<g id="gneto"><rect class="n w" x="2086.7" y="1457" width="140.3" height="42.8" rx="8"/><text class="s135"><tspan x="2156.9" y="1475.3">Phylum Gnetophyta;</tspan><tspan x="2156.9" y="1490"><tspan class="u">Gnetum</tspan> sp.</tspan></text></g>
<g id="monocot"><rect class="n w" x="2054.4" y="1075.1" width="162.5" height="42.3" rx="8"/><text class="s135"><tspan x="2135.6" y="1093.8">Class Monocotyledonae;</tspan><tspan x="2135.6" y="1108.4"><tspan class="u">Zea</tspan> <tspan class="u">mays</tspan></tspan></text></g>
<g id="dicot"><rect class="n w" x="2225.4" y="1141.2" width="150.9" height="42.3" rx="8"/><text class="s135"><tspan x="2300.8" y="1159.8">Class Dicotyledonae;</tspan><tspan x="2300.8" y="1174.4"><tspan class="u">Hibiscus</tspan> <tspan class="u">rosa-sinensis</tspan></tspan></text></g>
<g id="uniqan"><rect class="n w" x="1997.2" y="1166.1" width="145.6" height="26.1" rx="8"/><text class="s136" x="2070" y="1184">unique characteristics</text></g>
<g id="magnolio"><rect class="n w" x="2163.4" y="1293.8" width="152.5" height="26.5" rx="8"/><text class="s135" x="2239.6" y="1311.8">Phylum Magnoliophyta</text></g>
<g id="antophyta"><rect class="n w" x="2109.4" y="1350.7" width="126.6" height="26.5" rx="8"/><text class="s135" x="2172.7" y="1368.8">Phylum Antophyta</text></g>
<g id="whittaker"><rect class="lg" x="1330.8" y="153.4" width="239.2" height="55" rx="12"/><text class="it"><tspan x="1450" y="174.5">1969,Robert Whittaker</tspan><tspan x="1450" y="199.7">proposed</tspan></text></g>
<g id="five"><rect class="n lb" x="1131.8" y="278" width="208" height="32.4" rx="8"/><text class="s20" x="1235.8" y="301">Five-kingdom system</text></g>
<g id="uniqph"><rect class="n w" x="1530" y="440" width="194" height="47" rx="8"/><text class="s16"><tspan x="1627" y="459.6">unique characteristics for</tspan><tspan x="1627" y="476.1">each Phylum</tspan></text></g>
<g id="types"><rect class="n lb" x="1813.5" y="18.6" width="176.8" height="33.2" rx="8"/><text class="s20" x="1901.9" y="42">Types of diversity</text></g>
<g id="species"><rect class="n w" x="1838.4" y="109.5" width="117" height="26.9" rx="8"/><text class="s13" x="1896.9" y="127.6">Species diversity</text></g>
<g id="ecol"><rect class="n w" x="1833.6" y="152.2" width="130.3" height="26.9" rx="8"/><text class="s13" x="1898.7" y="170.3">Ecological diversity</text></g>
<g id="genetic"><rect class="n w" x="1846.3" y="195.3" width="117" height="26.9" rx="8"/><text class="s13" x="1904.8" y="213.4">Genetic diversity</text></g>
<g id="porifera"><rect class="n lb" x="2015.7" y="70.4" width="158.3" height="43.1" rx="8"/><text class="s13"><tspan x="2094.8" y="88.4">Phylum Porifera;</tspan><tspan x="2094.8" y="103.1">Sponges (Leucosolenia)</tspan></text></g>
<g id="watersys"><rect class="n w" x="2077.7" y="208.4" width="98.5" height="27.3" rx="8"/><text class="s135" x="2127" y="226.6">Water system</text></g>
<g id="animalia"><rect class="n k" x="1762.7" y="281.9" width="310.7" height="37.6" rx="8"/><text class="kt ks" x="1920" y="312.5" textLength="293" lengthAdjust="spacingAndGlyphs">KINGDOM ANIMALIA</text><text class="kt" x="1918" y="310.5" textLength="293" lengthAdjust="spacingAndGlyphs">KINGDOM ANIMALIA</text></g>
<g id="phylo"><rect class="n w" x="1746.3" y="517.2" width="137.1" height="29.3" rx="8"/><text class="s16" x="1814.8" y="537.5">Phylogenetic tree</text></g>
<g id="evoan"><rect class="n w" x="1927.9" y="454" width="212.3" height="46.6" rx="8"/><text class="s16"><tspan x="2034" y="473.4">Evolutionary relationship in</tspan><tspan x="2034" y="490.4">animal kingdom</tspan></text></g>
<g id="dimorph"><rect class="n w" x="2241.8" y="23.7" width="178.9" height="38.8" rx="8"/><text class="s13"><tspan x="2331.2" y="40.3">Dimorphism/polymorphism</tspan><tspan x="2331.2" y="55">in Obelia</tspan></text></g>
<g id="polyp"><rect class="n w" x="2203.7" y="80.3" width="48.1" height="26.5" rx="8"/><text class="s135" x="2227.7" y="98.2">polyp</text></g>
<g id="medusa"><rect class="n w" x="2279.9" y="86.2" width="63" height="25.3" rx="8"/><text class="s135" x="2311.4" y="103.6">medusa</text></g>
<g id="coel"><rect class="n g" x="2401.7" y="89.4" width="194.3" height="42.6" rx="8"/><text class="s13"><tspan x="2498.9" y="107.5">Phylum Coelentrata/Cnidaria;</tspan><tspan x="2498.9" y="122">Hydra, Obelia</tspan></text></g>
<g id="hydrozoa"><rect class="n w" x="2707.6" y="2" width="152.4" height="26.5" rx="8"/><text class="s135" x="2783.8" y="20">Class Hydrozoa; Hydra</text></g>
<g id="scypho"><rect class="n w" x="2777.5" y="51.8" width="172.5" height="26.1" rx="8"/><text class="s135" x="2863.8" y="69.7">Class Scyphozoa; Jellyfish</text></g>
<g id="anthozoa"><rect class="n w" x="2699.1" y="111.9" width="198" height="26.5" rx="8"/><text class="s135" x="2798.1" y="130">Class Anthozoa; Sea anemone</text></g>
<g id="platy"><rect class="n g" x="2667.3" y="174.4" width="161" height="26.9" rx="8"/><text class="s135" x="2747.8" y="192.7">Phylum Platyhelminthes</text></g>
<g id="cestoda"><rect class="n w" x="3055.4" y="51.4" width="224.4" height="26.9" rx="8"/><text class="s135" x="3167.6" y="69.7">Class Cestoda; Taenia (tapeworm)</text></g>
<g id="trema"><rect class="n w" x="3093.5" y="131.7" width="174.7" height="26.5" rx="8"/><text class="s135" x="3180.9" y="149.8">Class Trematoda; Fasciola</text></g>
<g id="turb"><rect class="n w" x="3100.4" y="198.5" width="172" height="42.7" rx="8"/><text class="s135"><tspan x="3186.4" y="216.8">Class Turbellaria; Planaria</tspan><tspan x="3186.4" y="231.4">*not parasites</tspan></text></g>
<g id="monog"><rect class="n w" x="2817.7" y="225.4" width="208.6" height="26.9" rx="8"/><text class="s135" x="2922" y="243.7">Class Monogenea; Dactylogyrus</text></g>
<g id="nema"><rect class="n g" x="2761.6" y="276.8" width="138.7" height="38.7" rx="8"/><text class="s135"><tspan x="2831" y="293.8">Phylum Nematoda;</tspan><tspan x="2831" y="308.1">Ascaris lumbricoides</tspan></text></g>
<g id="bodyc"><rect class="n w" x="3090.3" y="286.3" width="106.9" height="56.9" rx="8"/><text class="s135"><tspan x="3143.8" y="304.9">*Body cavity</tspan><tspan x="3143.8" y="319.2">*Unsegmented</tspan><tspan x="3143.8" y="333.8">*Triploblastic</tspan></text></g>
<g id="arthro"><rect class="n g" x="2897.6" y="371.7" width="132.4" height="26.5" rx="8"/><text class="s135" x="2963.8" y="389.8">Phylum Arthropoda</text></g>
<g id="exo"><rect class="n w" x="2687.5" y="489.5" width="150.3" height="42.7" rx="8"/><text class="s135"><tspan x="2762.7" y="507.8">exoskeleton, tagmata,</tspan><tspan x="2762.7" y="522.4">jointed appendages</tspan></text></g>
<g id="insecta"><rect class="n w" x="3167.6" y="431.4" width="100.6" height="42.7" rx="8"/><text class="s135"><tspan x="3217.9" y="449.6">Class Insecta;</tspan><tspan x="3217.9" y="464.3">Valanga</tspan></text></g>
<g id="arach"><rect class="n w" x="3151.7" y="532.2" width="120.2" height="42.7" rx="8"/><text class="s135"><tspan x="3211.8" y="550.5">CLass Arachnida;</tspan><tspan x="3211.8" y="565.5">Nephila</tspan></text></g>
<g id="chilo"><rect class="n w" x="2757.9" y="564.7" width="115.9" height="42.7" rx="8"/><text class="s135"><tspan x="2815.8" y="582.5">Class Chilopoda;</tspan><tspan x="2815.8" y="597.1">Scolopendra</tspan></text></g>
<g id="crust"><rect class="n w" x="2837.8" y="628.7" width="116.5" height="38.7" rx="8"/><text class="s135"><tspan x="2896" y="645.4">Class Crustacea;</tspan><tspan x="2896" y="660">Macrobrachium</tspan></text></g>
<g id="diplo"><rect class="n w" x="2972.8" y="639" width="116.5" height="38.7" rx="8"/><text class="s135"><tspan x="3031" y="655.6">Class Diplopoda;</tspan><tspan x="3031" y="670.3">Iulus</tspan></text></g>
<g id="merost"><rect class="n w" x="3124.7" y="643.7" width="134.5" height="42.7" rx="8"/><text class="s135"><tspan x="3192" y="661.6">Class Merostomota;</tspan><tspan x="3192" y="676.2">Tachypleus</tspan></text></g>
<g id="mollusca"><rect class="n g" x="2255" y="456.3" width="113.8" height="26.9" rx="8"/><text class="s135" x="2311.9" y="474.6">Phylum Mollusca</text></g>
<g id="visceral"><rect class="n w" x="2082" y="539.3" width="146" height="38.8" rx="8"/><text class="s135"><tspan x="2155" y="556.4">visceral mass.mantle,</tspan><tspan x="2155" y="571">muscular foot</tspan></text></g>
<g id="gastro"><rect class="n w" x="2147.6" y="622.4" width="127" height="38.7" rx="8"/><text class="s135"><tspan x="2211.1" y="639.8">Class Gastropoda;</tspan><tspan x="2211.1" y="654.1">Achatina</tspan></text></g>
<g id="bival"><rect class="n w" x="2321.7" y="629.5" width="102.2" height="38.7" rx="8"/><text class="s135"><tspan x="2372.8" y="646.5">Class Bivalvia;</tspan><tspan x="2372.8" y="661.2">Anadara</tspan></text></g>
<g id="cephalo"><rect class="n w" x="2212.7" y="736.3" width="134.4" height="43.4" rx="8"/><text class="s135"><tspan x="2279.9" y="754.9">Class Cephalopoda;</tspan><tspan x="2279.9" y="769.5">Sepia</tspan></text></g>
<g id="annelida"><rect class="n g" x="2423" y="752" width="120" height="26" rx="8"/><text class="s135" x="2483" y="769.8">Phylum Annelida;</text></g>
<g id="hirud"><rect class="n w" x="2178.8" y="847.8" width="114.3" height="42.7" rx="8"/><text class="s135"><tspan x="2236" y="865.6">Class Hirudinea;</tspan><tspan x="2236" y="880.2">Hiruda (leech)</tspan></text></g>
<g id="polych"><rect class="n w" x="2283.6" y="947.4" width="127.1" height="42.7" rx="8"/><text class="s135"><tspan x="2347.2" y="965.6">Class Polychaeta;</tspan><tspan x="2347.2" y="980.3">Nereis (rag worm)</tspan></text></g>
<g id="oligo"><rect class="n w" x="2458" y="986" width="156" height="43" rx="8"/><text class="s135"><tspan x="2536" y="1004.8">Class Oligochaeta;</tspan><tspan x="2536" y="1019.4">Pheretima (earthworm)</tspan></text></g>
<g id="echino"><rect class="n g" x="2766.3" y="734.7" width="155.1" height="26.5" rx="8"/><text class="s135" x="2843.9" y="752.8">Phylum Echinodermata</text></g>
<g id="watervasc"><rect class="n w" x="2744.6" y="835.5" width="156.7" height="38.7" rx="8"/><text class="s135"><tspan x="2823" y="853">water vascular system,</tspan><tspan x="2823" y="867.2">tube feet</tspan></text></g>
<g id="asteroidea"><rect class="n w" x="3134.8" y="722.8" width="120.2" height="38.4" rx="8"/><text class="s135"><tspan x="3194.9" y="739.5">Class Asteroidea;</tspan><tspan x="3194.9" y="754.1">Starfish</tspan></text></g>
<g id="holoth"><rect class="n w" x="3163.4" y="837.5" width="140.8" height="38.7" rx="8"/><text class="s135"><tspan x="3233.8" y="854.5">Class Holothuroidea;</tspan><tspan x="3233.8" y="869.2">Sea cucumber</tspan></text></g>
<g id="crino"><rect class="n w" x="3115.7" y="917.4" width="112.3" height="38.7" rx="8"/><text class="s135"><tspan x="3171.8" y="934.8">Class Crinoidea;</tspan><tspan x="3171.8" y="949.4">Featherstar</tspan></text></g>
<g id="ophiu"><rect class="n w" x="2887.6" y="924.5" width="129.1" height="38.7" rx="8"/><text class="s135"><tspan x="2952.1" y="941.9">Class Ophiuroidea;</tspan><tspan x="2952.1" y="956.5">Brittlestar</tspan></text></g>
<g id="echinoidea"><rect class="n w" x="3017.8" y="976.3" width="120.2" height="38.7" rx="8"/><text class="s135"><tspan x="3077.9" y="993.7">Class Echinoidea;</tspan><tspan x="3077.9" y="1008.4">Sea urchin</tspan></text></g>
<g id="chordata"><rect class="n g" x="2648.3" y="1059.3" width="118.6" height="26.9" rx="8"/><text class="s135" x="2707.6" y="1077.6">Phylum Chordata</text></g>
<g id="vert"><rect class="n w" x="2935.7" y="1193" width="81" height="24.1" rx="8"/><text class="s135" x="2976.2" y="1209.8">Vertebrata</text></g>
<g id="uro"><rect class="n w" x="2486" y="1218" width="97" height="43" rx="8"/><text class="s135"><tspan x="2534.5" y="1236.8">Urochordata;</tspan><tspan x="2534.5" y="1251.8">Sea squirt</tspan></text></g>
<g id="cephaloc"><rect class="n w" x="2648.3" y="1360.6" width="122.8" height="38.4" rx="8"/><text class="s135"><tspan x="2709.7" y="1377.7">Cephalochordata;</tspan><tspan x="2709.7" y="1392.3">Lancelet</tspan></text></g>
<g id="hemi"><rect class="n w" x="2487" y="1447" width="103" height="39" rx="8"/><text class="s135"><tspan x="2538.5" y="1464.6">Hemichordata;</tspan><tspan x="2538.5" y="1479.3">Acorn worm</tspan></text></g>
<g id="chondri"><rect class="n w" x="3157" y="1119.8" width="144" height="41.9" rx="8"/><text class="s135"><tspan x="3229" y="1138">Class Chondrichthyes</tspan><tspan x="3229" y="1152.7">(ray; Raja)</tspan></text></g>
<g id="osteich"><rect class="n w" x="3184.6" y="1300.1" width="128.6" height="43.5" rx="8"/><text class="s135"><tspan x="3248.9" y="1318.7">Class Osteichthyes</tspan><tspan x="3248.9" y="1333.4">(ikan selar; Selar)</tspan></text></g>
<g id="aves"><rect class="n w" x="2758.4" y="1524.7" width="128.6" height="43.5" rx="8"/><text class="s135"><tspan x="2822.7" y="1543.3">Class Aves</tspan><tspan x="2822.7" y="1558">(pigeon; Columba)</tspan></text></g>
<g id="mammalia"><rect class="n w" x="2878.6" y="1716.5" width="112.2" height="42.7" rx="8"/><text class="s135"><tspan x="2934.7" y="1735.1">Class Mammalia</tspan><tspan x="2934.7" y="1749.8">(rat; Rattus)</tspan></text></g>
<g id="reptilia"><rect class="n w" x="3030.5" y="1793.6" width="151.9" height="42.7" rx="8"/><text class="s135"><tspan x="3106.5" y="1812.2">Class Reptilia</tspan><tspan x="3106.5" y="1826.5">(crocodile; Crocodilus)</tspan></text></g>
<g id="amphibia"><rect class="n w" x="3154.4" y="1537.7" width="106.4" height="42.7" rx="8"/><text class="s135"><tspan x="3207.6" y="1556.4">Class Amphibia</tspan><tspan x="3207.6" y="1571">(frog; Rana)</tspan></text></g>
</svg>
